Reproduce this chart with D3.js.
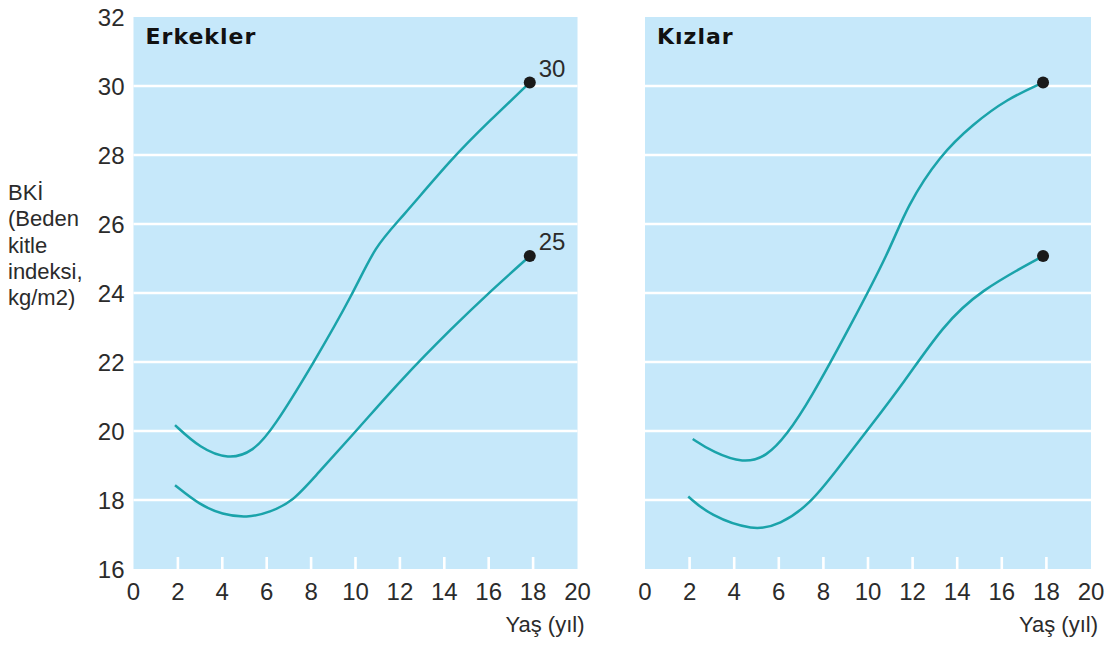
<!DOCTYPE html>
<html>
<head>
<meta charset="utf-8">
<script src="https://cdn.jsdelivr.net/npm/d3@7"></script>
<style>
  html, body { margin: 0; padding: 0; background: #fff; }
  svg { display: block; }
  .tick-lab { font-family: "Liberation Sans Narrow", "Arial Narrow", "Liberation Sans", sans-serif; font-size: 24px; fill: #2b2b2b; }
  .lab { font-family: "Liberation Sans", Arial, sans-serif; font-size: 22px; fill: #2b2b2b; }
  .title { font-family: "DejaVu Sans", sans-serif; font-weight: bold; font-size: 22px; letter-spacing: 1px; fill: #111; }
</style>
</head>
<body>
<div id="chart"></div>
<script>
// BKİ eğrileri, 2-18 yaş (üst: 30'a, alt: 25'e giden eğri)
const xTicks = [0, 2, 4, 6, 8, 10, 12, 14, 16, 18, 20];
const yTicks = [16, 18, 20, 22, 24, 26, 28, 30, 32];
const yLabel = ["BKİ", "(Beden", "kitle", "indeksi,", "kg/m2)"];
const xLabel = "Yaş (yıl)";

// [yaş, BKİ]
const erkekUst = [[1.87, 20.17], [3.0, 19.5], [4.27, 19.17], [5.4, 19.4], [6.3, 20.08], [8.1, 21.96],
  [9.9, 23.99], [10.9, 25.38], [12.0, 26.12], [14.4, 27.95], [16.06, 29.0], [17.85, 30.1]];
const erkekAlt = [[1.87, 18.43], [3.0, 17.85], [4.0, 17.58], [5.1, 17.48], [6.15, 17.64], [7.2, 17.98],
  [8.1, 18.63], [10.2, 20.12], [12.0, 21.45], [14.4, 23.02], [16.06, 24.04], [17.85, 25.07]];
const kizUst = [[2.14, 19.77], [3.06, 19.38], [4.41, 19.06], [5.46, 19.26], [6.35, 19.88], [7.4, 20.9],
  [9.19, 23.02], [10.99, 25.25], [11.73, 26.5], [13.23, 28.0], [14.72, 28.9], [16.22, 29.62],
  [17.85, 30.1]];
const kizAlt = [[1.94, 18.1], [2.91, 17.55], [4.86, 17.1], [6.05, 17.28], [7.4, 17.88], [8.6, 18.87],
  [10.09, 20.12], [11.58, 21.38], [13.37, 23.06], [14.99, 24.06], [17.85, 25.07]];

const panels = [
  { title: "Erkekler", curves: [erkekUst, erkekAlt], notes: ["30", "25"], x0: 133.5, x1: 577.5, yAxis: true },
  { title: "Kızlar", curves: [kizUst, kizAlt], notes: null, x0: 645, x1: 1091, yAxis: false }
];

const W = 1120, H = 649;
const plotTop = 17, plotBottom = 569;
const bg = "#c6e8fa", lineCol = "#1aa3aa";

const svg = d3.select("#chart").append("svg").attr("width", W).attr("height", H);
const y = d3.scaleLinear().domain([16, 32]).range([plotBottom, plotTop]);

for (const p of panels) {
  const x = d3.scaleLinear().domain([0, 20]).range([p.x0, p.x1]);
  const g = svg.append("g");
  g.append("rect").attr("x", x(0)).attr("y", y(32)).attr("width", x(20) - x(0)).attr("height", y(16) - y(32)).attr("fill", bg);

  // yatay beyaz çizgiler
  g.selectAll(".grid").data(yTicks.filter((d) => d > 16 && d < 32)).join("line")
    .attr("x1", x(0)).attr("x2", x(20)).attr("y1", (d) => y(d)).attr("y2", (d) => y(d))
    .attr("stroke", "#fff").attr("stroke-width", 2.6);
  // alt kenardaki küçük çentikler
  g.selectAll(".tk").data(xTicks.filter((d) => d > 0 && d < 20)).join("line")
    .attr("x1", (d) => x(d)).attr("x2", (d) => x(d)).attr("y1", y(16)).attr("y2", y(16) - 12)
    .attr("stroke", "#fff").attr("stroke-width", 2.6);

  g.selectAll(".xl").data(xTicks).join("text").attr("class", "tick-lab")
    .attr("x", (d) => x(d)).attr("y", 600).attr("text-anchor", "middle").text((d) => d);
  g.append("text").attr("class", "lab").attr("x", x(20) + 7).attr("y", 632).attr("text-anchor", "end").text(xLabel);

  if (p.yAxis) {
    g.selectAll(".yl").data(yTicks).join("text").attr("class", "tick-lab")
      .attr("x", x(0) - 9).attr("y", (d) => y(d) + 8.5).attr("text-anchor", "end").text((d) => d);
  }

  g.append("text").attr("class", "title").attr("x", x(0) + 12).attr("y", 44).text(p.title);

  const line = d3.line().x((d) => x(d[0])).y((d) => y(d[1])).curve(d3.curveBasis);
  p.curves.forEach((c, i) => {
    g.append("path").attr("d", line(c)).attr("fill", "none").attr("stroke", lineCol).attr("stroke-width", 2.5);
    const end = c[c.length - 1];
    g.append("circle").attr("cx", x(end[0])).attr("cy", y(end[1])).attr("r", 6).attr("fill", "#1a1a1a");
    if (p.notes) {
      g.append("text").attr("class", "tick-lab").attr("x", x(end[0]) + 9).attr("y", y(end[1]) - 6).text(p.notes[i]);
    }
  });
}

const yl = svg.append("text").attr("class", "lab");
yLabel.forEach((t, i) => yl.append("tspan").attr("x", 8).attr("y", 200 + i * 26.3).text(t));
</script>
</body>
</html>
